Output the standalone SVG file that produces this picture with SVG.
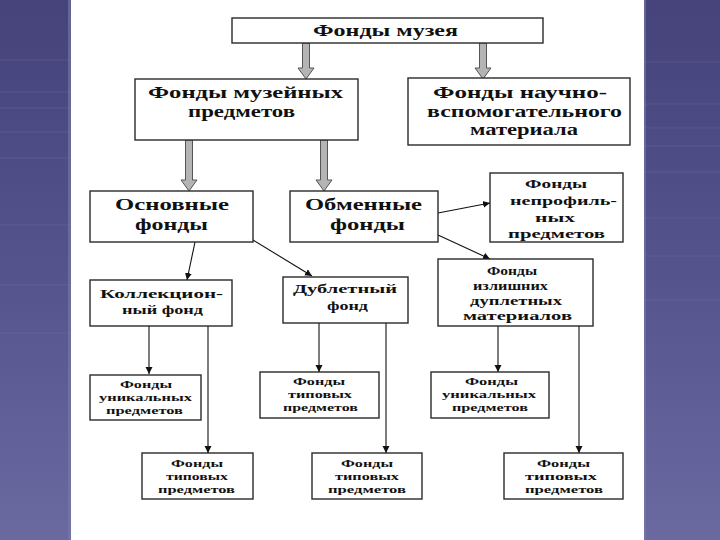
<svg xmlns="http://www.w3.org/2000/svg" width="720" height="540" viewBox="0 0 720 540">
<defs>
<linearGradient id="bg" x1="0" y1="0" x2="0" y2="1">
<stop offset="0" stop-color="#45437a"/>
<stop offset="0.5" stop-color="#55538c"/>
<stop offset="1" stop-color="#6a69a0"/>
</linearGradient>
<marker id="ah" markerWidth="8" markerHeight="8" refX="7" refY="4" orient="auto" markerUnits="userSpaceOnUse">
<path d="M0,0.5 L7,4 L0,7.5 Z" fill="#111"/>
</marker>
<style>
.box{fill:#fff;stroke:#2a2a2a;stroke-width:1.4}
.t{font-family:"Liberation Serif","Times New Roman",serif;font-weight:bold;fill:#111;text-anchor:middle}
.t18{font-size:17px}
.t15{font-size:13.5px}
.t13{font-size:11px}
.c{stroke:#111;stroke-width:1.1;fill:none}
.ga{fill:#b4b4b4;stroke:#555;stroke-width:1}
.stripe{stroke:#8a89bb;stroke-width:1.2;opacity:0.2}
</style>
</defs>
<rect x="0" y="0" width="720" height="540" fill="#fff"/>
<g id="background">
<rect x="0" y="0" width="71" height="540" fill="url(#bg)"/>
<rect x="644" y="0" width="76" height="540" fill="url(#bg)"/>
<rect x="68" y="0" width="3" height="540" fill="#7a7aa8" opacity="0.6"/>
<rect x="644" y="0" width="2" height="540" fill="#7a7aa8" opacity="0.6"/>
<g class="stripe">
<line x1="0" y1="60" x2="71" y2="60"/><line x1="0" y1="92" x2="71" y2="92"/><line x1="0" y1="108" x2="71" y2="108"/><line x1="0" y1="132" x2="71" y2="132"/><line x1="0" y1="158" x2="71" y2="158"/><line x1="0" y1="225" x2="71" y2="225"/><line x1="0" y1="285" x2="71" y2="285"/><line x1="0" y1="333" x2="71" y2="333"/>
<line x1="644" y1="62" x2="720" y2="62"/><line x1="644" y1="104" x2="720" y2="104"/><line x1="644" y1="128" x2="720" y2="128"/><line x1="644" y1="146" x2="720" y2="146"/><line x1="644" y1="172" x2="720" y2="172"/><line x1="644" y1="218" x2="720" y2="218"/><line x1="644" y1="256" x2="720" y2="256"/><line x1="644" y1="300" x2="720" y2="300"/>
</g>
</g>

<g id="connectors">
<path class="ga" d="M302.5,43 L309.5,43 L309.5,68 L314,68 L306,79 L298,68 L302.5,68 Z"/>
<path class="ga" d="M479.5,43 L486.5,43 L486.5,68 L491,68 L483,79 L475,68 L479.5,68 Z"/>
<path class="ga" d="M185.5,140 L192.5,140 L192.5,180 L197,180 L189,191 L181,180 L185.5,180 Z"/>
<path class="ga" d="M320.5,140 L327.5,140 L327.5,180 L332,180 L324,191 L316,180 L320.5,180 Z"/>
<line class="c" x1="195" y1="242" x2="187" y2="280" marker-end="url(#ah)"/>
<line class="c" x1="253" y1="240" x2="312" y2="276" marker-end="url(#ah)"/>
<line class="c" x1="438" y1="213" x2="490" y2="203" marker-end="url(#ah)"/>
<line class="c" x1="438" y1="235" x2="490" y2="259" marker-end="url(#ah)"/>
<line class="c" x1="149" y1="326" x2="149" y2="374" marker-end="url(#ah)"/>
<line class="c" x1="208" y1="326" x2="208" y2="453" marker-end="url(#ah)"/>
<line class="c" x1="319" y1="323" x2="319" y2="372" marker-end="url(#ah)"/>
<line class="c" x1="386" y1="323" x2="386" y2="453" marker-end="url(#ah)"/>
<line class="c" x1="498" y1="326" x2="498" y2="372" marker-end="url(#ah)"/>
<line class="c" x1="579" y1="326" x2="579" y2="453" marker-end="url(#ah)"/>
</g>

<g id="n-fondy-muzeya">
<rect class="box" x="232" y="18" width="311" height="25"/>
<text class="t t18" x="385.5" y="36" textLength="145" lengthAdjust="spacingAndGlyphs">Фонды музея</text>
</g>
<g id="n-muzeinyh">
<rect class="box" x="135" y="79" width="223" height="61"/>
<text class="t t18" x="245.5" y="98" textLength="195" lengthAdjust="spacingAndGlyphs">Фонды музейных</text>
<text class="t t18" x="241.5" y="117" textLength="107" lengthAdjust="spacingAndGlyphs">предметов</text>
</g>
<g id="n-nauchno">
<rect class="box" x="408" y="78" width="222" height="67"/>
<text class="t t18" x="520" y="98" textLength="174" lengthAdjust="spacingAndGlyphs">Фонды научно-</text>
<text class="t t18" x="524.5" y="117" textLength="195" lengthAdjust="spacingAndGlyphs">вспомогательного</text>
<text class="t t18" x="524" y="135" textLength="108" lengthAdjust="spacingAndGlyphs">материала</text>
</g>
<g id="n-osnovnye">
<rect class="box" x="90" y="191" width="163" height="51"/>
<text class="t t18" x="172" y="210" textLength="114" lengthAdjust="spacingAndGlyphs">Основные</text>
<text class="t t18" x="171.5" y="230" textLength="73" lengthAdjust="spacingAndGlyphs">фонды</text>
</g>
<g id="n-obmennye">
<rect class="box" x="290" y="191" width="148" height="51"/>
<text class="t t18" x="363.5" y="210" textLength="117" lengthAdjust="spacingAndGlyphs">Обменные</text>
<text class="t t18" x="367.5" y="230" textLength="75" lengthAdjust="spacingAndGlyphs">фонды</text>
</g>
<g id="n-neprofil">
<rect class="box" x="490" y="173" width="133" height="69"/>
<text class="t t15" x="556" y="188" textLength="62" lengthAdjust="spacingAndGlyphs">Фонды</text>
<text class="t t15" x="563.5" y="205" textLength="107" lengthAdjust="spacingAndGlyphs">непрофиль-</text>
<text class="t t15" x="555" y="222" textLength="40" lengthAdjust="spacingAndGlyphs">ных</text>
<text class="t t15" x="556.5" y="238" textLength="97" lengthAdjust="spacingAndGlyphs">предметов</text>
</g>
<g id="n-izlishnih">
<rect class="box" x="438" y="259" width="155" height="67"/>
<text class="t t15" x="512" y="275" textLength="50" lengthAdjust="spacingAndGlyphs">Фонды</text>
<text class="t t15" x="510.5" y="290" textLength="75" lengthAdjust="spacingAndGlyphs">излишних</text>
<text class="t t15" x="516" y="305" textLength="92" lengthAdjust="spacingAndGlyphs">дуплетных</text>
<text class="t t15" x="517.5" y="320" textLength="109" lengthAdjust="spacingAndGlyphs">материалов</text>
</g>
<g id="n-kollekc">
<rect class="box" x="90" y="280" width="142" height="46"/>
<text class="t t15" x="161.5" y="298" textLength="123" lengthAdjust="spacingAndGlyphs">Коллекцион-</text>
<text class="t t15" x="162.5" y="314" textLength="81" lengthAdjust="spacingAndGlyphs">ный фонд</text>
</g>
<g id="n-dubletny">
<rect class="box" x="283" y="277" width="125" height="46"/>
<text class="t t15" x="345" y="293" textLength="104" lengthAdjust="spacingAndGlyphs">Дублетный</text>
<text class="t t15" x="347.5" y="310" textLength="41" lengthAdjust="spacingAndGlyphs">фонд</text>
</g>
<g id="n-unik-1">
<rect class="box" x="90" y="375" width="111" height="45"/>
<text class="t t13" x="146" y="388" textLength="52" lengthAdjust="spacingAndGlyphs">Фонды</text>
<text class="t t13" x="145.5" y="401" textLength="93" lengthAdjust="spacingAndGlyphs">уникальных</text>
<text class="t t13" x="144.5" y="414" textLength="77" lengthAdjust="spacingAndGlyphs">предметов</text>
</g>
<g id="n-tip-1">
<rect class="box" x="142" y="453" width="111" height="46"/>
<text class="t t13" x="197" y="467" textLength="52" lengthAdjust="spacingAndGlyphs">Фонды</text>
<text class="t t13" x="197" y="480" textLength="62" lengthAdjust="spacingAndGlyphs">типовых</text>
<text class="t t13" x="196.5" y="493" textLength="77" lengthAdjust="spacingAndGlyphs">предметов</text>
</g>
<g id="n-tip-2">
<rect class="box" x="260" y="372" width="119" height="46"/>
<text class="t t13" x="319" y="385" textLength="52" lengthAdjust="spacingAndGlyphs">Фонды</text>
<text class="t t13" x="320" y="398" textLength="64" lengthAdjust="spacingAndGlyphs">типовых</text>
<text class="t t13" x="320.5" y="411" textLength="75" lengthAdjust="spacingAndGlyphs">предметов</text>
</g>
<g id="n-tip-3">
<rect class="box" x="312" y="453" width="110" height="46"/>
<text class="t t13" x="367" y="467" textLength="52" lengthAdjust="spacingAndGlyphs">Фонды</text>
<text class="t t13" x="367" y="480" textLength="64" lengthAdjust="spacingAndGlyphs">типовых</text>
<text class="t t13" x="367" y="493" textLength="78" lengthAdjust="spacingAndGlyphs">предметов</text>
</g>
<g id="n-unik-2">
<rect class="box" x="431" y="372" width="118" height="46"/>
<text class="t t13" x="491.5" y="385" textLength="53" lengthAdjust="spacingAndGlyphs">Фонды</text>
<text class="t t13" x="489" y="398" textLength="94" lengthAdjust="spacingAndGlyphs">уникальных</text>
<text class="t t13" x="490" y="411" textLength="76" lengthAdjust="spacingAndGlyphs">предметов</text>
</g>
<g id="n-tip-4">
<rect class="box" x="504" y="453" width="119" height="46"/>
<text class="t t13" x="563.5" y="467" textLength="53" lengthAdjust="spacingAndGlyphs">Фонды</text>
<text class="t t13" x="561" y="480" textLength="72" lengthAdjust="spacingAndGlyphs">типовых</text>
<text class="t t13" x="564" y="493" textLength="78" lengthAdjust="spacingAndGlyphs">предметов</text>
</g>
</svg>
